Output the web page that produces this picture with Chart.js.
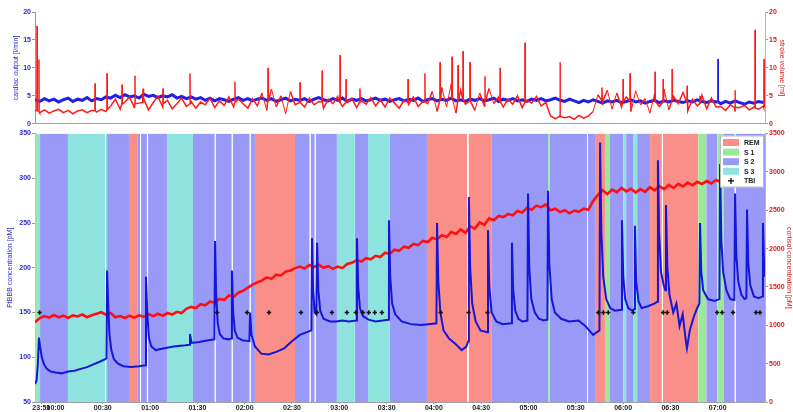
<!DOCTYPE html>
<html>
<head>
<meta charset="utf-8">
<script src="https://cdn.jsdelivr.net/npm/chart.js@4.4.0/dist/chart.umd.min.js"></script>
<style>
  html, body { margin: 0; padding: 0; background: #fff; }
  #wrap { position: relative; width: 793px; height: 412px; overflow: hidden; }
  #chart-top { position: absolute; left: 0; top: 0; }
  #chart-bottom { position: absolute; left: 0; top: 128px; }
</style>
</head>
<body>
<div id="wrap">
  <canvas id="chart-top" width="793" height="129"></canvas>
  <canvas id="chart-bottom" width="793" height="284"></canvas>
</div>
<script>
// Time is in minutes relative to midnight (negative = before 00:00).
const X_MIN = -13;
const X_MAX = 450;
const xTickMinutes = [-9, 0, 30, 60, 90, 120, 150, 180, 210, 240, 270, 300, 330, 360, 390, 420];
const xTickLabels = ['23:51', '00:00', '00:30', '01:00', '01:30', '02:00', '02:30', '03:00', '03:30',
  '04:00', '04:30', '05:00', '05:30', '06:00', '06:30', '07:00'];

const outputTicks = [0, 5, 10, 15, 20];
const concTicks = [50, 100, 150, 200, 250, 300, 350];
const rightConcTicks = [0, 500, 1000, 1500, 2000, 2500, 3000, 3500];

// regularly sampled traces: one value every SAMPLE_STEP minutes from SAMPLE_START
const SAMPLE_START = -13;
const SAMPLE_STEP = 3;

const cardiacOutput = [
  4.3, 4.0, 4.5, 4.1, 4.4, 3.9, 4.3, 4.6, 4.0, 4.4, 4.2, 4.7, 4.1, 4.5, 4.3, 4.8,
  4.6, 5.1, 4.7, 5.2, 4.8, 5.0, 4.6, 5.3, 4.9, 5.1, 4.7, 5.0, 4.8, 5.2, 4.6, 4.9, 4.5, 4.8, 4.4, 4.7,
  4.2, 4.6, 4.1, 4.5, 4.3, 4.0, 4.4, 4.7, 4.2, 4.5,
  4.1, 4.4, 4.6, 4.2, 4.5, 4.0, 4.3, 4.6, 4.1, 4.4,
  4.2, 4.5, 4.0, 4.4, 4.7, 4.3, 4.1, 4.5, 4.2, 4.6,
  4.0, 4.4, 4.2, 4.5, 4.1, 4.3, 4.6, 4.2, 4.4, 4.0,
  4.3, 4.5, 4.1, 4.4, 4.2, 4.6, 4.0, 4.3, 4.5, 4.1,
  4.4, 4.2, 4.6, 4.1, 4.3, 4.0, 4.4, 4.2, 4.5, 4.1,
  4.3, 4.6, 4.0, 4.4, 4.2, 4.5, 4.1, 4.3, 4.0, 4.4,
  4.2, 4.5, 4.1, 4.3, 4.6, 4.2, 4.0, 4.4,
  4.1, 3.8, 4.2, 3.9, 4.3, 4.0, 3.7, 4.1, 3.9, 4.2, 3.8, 4.0, 4.3, 3.9, 4.1,
  3.7, 4.0, 4.2, 3.8, 4.1, 3.9, 4.2, 4.0, 3.8, 4.1, 3.9, 4.3, 4.0, 3.8, 4.1,
  3.9, 3.6, 4.0, 3.7, 4.1, 3.8, 3.5, 3.9, 3.7, 4.0, 3.8
];

const strokeTrace = [
  2.4, 2.0, 2.5, 1.9, 2.3, 2.6, 2.0, 2.4, 1.8, 2.3, 2.5, 2.0, 2.4, 2.1, 2.6, 2.2,
  3.2, 4.4, 2.6, 3.9, 4.8, 2.9, 3.7, 4.5, 2.5, 3.8, 4.9, 3.0, 4.2, 2.7, 3.6, 4.6, 3.1, 4.0, 2.8, 3.9,
  3.4, 4.6, 2.9, 4.1, 3.3, 4.8, 3.0, 4.4, 3.6, 2.8, 4.5, 3.2,
  5.5, 2.4, 6.2, 3.0, 5.0, 1.8, 5.8, 3.4,
  4.2, 3.0, 4.6, 3.4, 4.0, 2.8, 4.4, 3.6, 4.9, 3.1, 3.8, 4.5, 2.9, 4.1,
  3.5, 4.7, 3.2, 4.3, 3.0, 4.6, 3.7, 2.8, 4.2, 3.5, 4.8, 3.1, 4.0, 3.6,
  5.8, 2.2, 6.5, 3.0, 7.2, 1.9, 6.0, 3.5, 7.5, 2.4, 5.5, 3.2, 6.3,
  3.6, 4.8, 3.0, 4.4, 3.5, 5.0, 2.9, 4.2, 3.7, 4.9, 3.2, 3.8,
  1.4, 0.9, 1.6, 1.1, 1.3, 0.8, 1.5, 1.0, 1.4, 2.2,
  5.2, 4.0, 6.0, 2.6, 5.5, 3.0, 4.8, 2.2, 5.9, 3.4, 4.5, 1.9, 5.4,
  3.1, 6.2, 2.5, 4.9, 3.6, 5.6, 2.3, 4.4, 3.2, 5.1, 2.7, 4.6, 3.0,
  3.1, 2.4, 3.4, 2.2, 2.9, 3.3, 2.5, 3.0, 2.6, 3.2
];

// short artefact peaks: [minute, peak, level at the foot]
const strokeSpikes = [
  [-11.7, 17.5, 2.3], [-10.5, 11.5, 2.2], [25.1, 7.2, 2.3], [32.7, 9, 2.5], [42.2, 7, 3.5],
  [50.4, 8.6, 3.6], [55.5, 6.3, 3.8], [68.2, 6.3, 3.6], [85.3, 9, 3.5], [113.8, 7.5, 3.8],
  [134.8, 10, 4.0], [155.1, 7.4, 3.8], [169.1, 9.5, 3.9], [180.5, 12.3, 3.7], [184.3, 8, 3.8],
  [193.1, 6.3, 3.9], [223.6, 8, 3.8], [234.3, 9, 3.9], [243.9, 11, 4.2], [251.5, 12, 4.5],
  [255.3, 10.5, 4.0], [258.5, 13, 4.4], [262.9, 11, 4.1], [272.4, 8.5, 4.0], [282, 10, 3.9],
  [297.8, 14.5, 3.8], [320, 11, 1.3], [346.6, 6.5, 4.2], [360, 8, 4.0], [364.4, 9, 4.1],
  [380.3, 9.3, 4.0], [385.4, 8, 3.9], [391.1, 9.8, 4.1], [400.6, 6.8, 3.8], [408.8, 5, 3.6],
  [431, 6, 2.9], [443.7, 16.8, 2.8], [449.4, 11.6, 3.0]
];
const cardiacSpikes = [[420.2, 11.6, 3.9]];

const cortisolTrace = [
  1040, 1095, 1120, 1100, 1135, 1105, 1125, 1095, 1130, 1115, 1140, 1105, 1130, 1150, 1170, 1140,
  1160, 1105, 1120, 1095, 1125, 1100, 1130, 1110, 1145, 1120, 1150, 1125, 1160, 1140, 1175, 1160,
  1215, 1240, 1225, 1275, 1260, 1310, 1295, 1345, 1330, 1390, 1370, 1425, 1450, 1490, 1530, 1560,
  1585, 1625, 1605, 1660, 1650, 1700, 1715, 1745, 1765, 1740, 1785, 1760, 1790, 1750, 1770, 1735,
  1765, 1745, 1800, 1815, 1850, 1830, 1875, 1860, 1905, 1890, 1945, 1930, 1985, 1970, 2025, 2010,
  2060, 2045, 2100, 2085, 2140, 2120, 2175, 2150, 2215, 2190, 2250, 2205, 2290, 2260, 2340, 2310,
  2395, 2370, 2425, 2410, 2450, 2435, 2490, 2470, 2530, 2505, 2560, 2540, 2575, 2500, 2520, 2475,
  2500, 2460, 2495, 2480, 2520, 2505, 2620, 2700, 2760, 2710, 2770, 2735, 2790, 2745, 2780, 2730,
  2775, 2740, 2800, 2760, 2815, 2775, 2830, 2790, 2845, 2810, 2860, 2825, 2870, 2840, 2880, 2850,
  2895, 2865, 2900, 2870, 2905, 2880, 2910, 2885, 2915, 2890, 2905
];

// [minute, concentration]
const ptbbbSeries = [
  [-13, 70], [-12, 74], [-11.2, 92], [-10.5, 122], [-9.8, 112], [-8.8, 101], [-7.5, 93], [-5.5, 87],
  [-3, 84], [0, 83], [4, 82], [8, 84], [12, 85], [16, 87], [20, 89], [24, 92], [28, 95], [31.5, 98], [32.3, 99],
  [32.7, 197], [33.4, 160], [34.2, 126], [35.4, 108], [37, 98], [39.5, 93], [43, 90], [48, 89], [53, 90], [57, 91],
  [57.4, 190], [58.2, 150], [59.2, 122], [60.8, 112], [63.5, 108], [69, 110], [75, 112], [81, 113], [84.8, 114],
  [85.3, 126], [86.3, 116], [91, 117], [97, 119], [100.8, 120],
  [101.2, 230], [101.9, 170], [102.9, 138], [104.2, 126], [106.5, 121], [109.5, 120], [111.5, 121],
  [111.9, 197], [112.7, 150], [113.7, 130], [115.4, 122], [118.5, 119], [123, 118],
  [123.4, 150], [124.3, 125], [126.5, 112], [130.5, 104], [135, 103], [140, 106], [145, 110], [150, 118],
  [155, 125], [159.5, 128], [162.3, 130],
  [162.7, 233], [163.4, 175], [164.4, 150], [165.4, 148], [165.9, 228], [166.7, 175], [167.9, 152], [170, 143],
  [174, 140], [178, 140], [182, 141], [186, 140], [190.8, 141],
  [191.2, 233], [192, 178], [193.1, 155], [195, 146], [198.5, 142], [203, 140], [207.5, 141], [211.1, 142],
  [211.5, 253], [212.3, 190], [213.5, 160], [215.5, 148], [219.5, 140], [225.5, 137], [231.5, 136], [236.5, 137], [241.6, 138],
  [242, 250], [242.8, 185], [244.1, 150], [246.1, 130], [249.6, 121], [253.6, 115], [257.6, 108], [260.6, 112], [261.8, 118],
  [262.2, 279], [263, 200], [264.3, 160], [266.5, 140], [269.5, 130], [273.9, 128],
  [274.3, 242], [275.1, 180], [276.6, 150], [279.6, 140], [283.6, 137], [289.1, 138],
  [289.5, 228], [290.3, 175], [291.6, 152], [293.6, 143], [296, 140], [299.3, 141],
  [299.7, 283], [300.5, 200], [301.8, 165], [304, 150], [306.6, 143], [309.6, 141], [312, 142],
  [312.4, 286], [313.2, 205], [314.7, 165], [316.7, 150], [320.7, 143], [325.7, 140], [331.7, 141], [336, 135], [341, 125], [345, 130],
  [345.4, 340], [346.2, 240], [347.4, 190], [349.3, 165], [351.8, 155], [354.8, 152], [358.9, 153],
  [359.3, 253], [360.1, 190], [361.3, 165], [363.3, 155], [365.8, 152], [367.1, 154],
  [367.5, 247], [368.3, 185], [369.8, 162], [371.8, 155], [375.8, 157], [379.8, 160], [381.7, 162],
  [382.1, 320], [382.8, 240], [384.1, 195], [385.8, 180], [386.8, 175],
  [387.2, 270], [388.1, 200], [389.4, 170], [391.8, 150], [393.8, 160], [395.8, 135], [397.8, 148], [399.8, 118],
  [400.5, 110], [402.3, 130], [404.8, 145], [407, 155], [408.4, 160],
  [408.8, 250], [409.6, 195], [410.8, 175], [413.8, 165], [417.8, 163], [421.1, 165],
  [421.5, 316], [422.3, 230], [423.5, 195], [425.5, 175], [428, 165], [430.6, 164],
  [431, 283], [431.8, 215], [433, 185], [435, 170], [437, 165], [438.2, 166],
  [438.6, 265], [439.4, 205], [440.7, 180], [443, 168], [446, 166], [448.3, 168],
  [448.7, 250], [449.3, 210], [450, 190]
];

const tbiMinutes = [-10.1, 102.5, 121.5, 135.4, 155.7, 165.8, 175.3, 184.8, 190.5, 194.9, 198.7, 202.5, 207,
  244.3, 262, 274, 344.3, 347.5, 350.6, 366.5, 385.4, 388, 419.6, 422.8, 429.7, 444.3, 446.8];
const TBI_LEVEL = 150;

// hypnogram, [start, end] in minutes per stage
const remSpans = [[46.6, 52.3], [126.5, 151.9], [235.6, 261], [262, 276.8], [342.2, 348.5], [377.1, 384.6], [385.2, 407.6]];
const s1Spans = [[-13, -11.7], [312.4, 313.6], [348.5, 351.7], [407.6, 412.7], [419.7, 423.5]];
const s2Spans = [[-9.8, 7.9], [32.7, 46.6], [52.3, 53.6], [54.2, 58], [58.7, 70.7], [87.2, 101], [101.6, 111.8],
  [112.4, 123.2], [123.8, 126.5], [151.9, 161.2], [161.8, 164.4], [165, 178.5], [189.9, 198.2], [212.1, 235.6],
  [276.8, 312.4], [313.6, 337.1], [337.7, 342.2], [351.7, 360], [361.9, 366.3], [368.9, 377.1], [412.7, 419.7],
  [423.5, 430.8], [431.4, 450]];
const s3Spans = [[-11.7, -9.8], [7.9, 31.4], [32, 32.7], [70.7, 87.2], [178.5, 189.9], [198.2, 212.1], [360, 361.9], [366.3, 368.9]];

const legendLabels = ['REM', 'S 1', 'S 2', 'S 3', 'TBI'];
const stageColors = ['#f98f88', '#9be89b', '#9999f7', '#8fe3df'];
const BAND_TOP = 350;

Chart.defaults.font.family = 'Arial, "Liberation Sans", sans-serif';

function gridSeries(values) {
  return values.map((v, i) => ({ x: SAMPLE_START + i * SAMPLE_STEP, y: v }));
}

function withSpikes(points, spikes) {
  const extra = [];
  spikes.forEach(([t, peak, foot]) => {
    extra.push({ x: t - 0.2, y: foot }, { x: t, y: peak }, { x: t + 0.2, y: foot });
  });
  return points.concat(extra).sort((a, b) => a.x - b.x);
}

// steep spike flanks are drawn thin so a peak reads as a hairline
function spikeWidth(base) {
  return (ctx) => (Math.abs(ctx.p1.parsed.y - ctx.p0.parsed.y) > 2.5 ? 1 : base);
}

function spanPoints(spans) {
  const pts = [];
  spans.forEach(([a, b]) => {
    pts.push({ x: a, y: BAND_TOP }, { x: b, y: BAND_TOP }, { x: b, y: null });
  });
  return pts;
}

function fixedWidth(w) {
  return (scale) => { scale.width = w; };
}

function setTicks(list) {
  return (scale) => { scale.ticks = list.map((v) => ({ value: v })); };
}

function yAxis(position, ticks, min, max, color, title, titlePad, width) {
  return {
    type: 'linear',
    position,
    min,
    max,
    afterBuildTicks: setTicks(ticks),
    afterFit: fixedWidth(width),
    border: { color: position === 'left' ? '#9a9a9a' : '#f0a0a0' },
    grid: { drawOnChartArea: false, tickLength: 3, color: '#9a9a9a' },
    ticks: {
      color,
      padding: 1,
      font: { size: 7, weight: 'bold' },
      callback: (value) => String(value),
    },
    title: { display: true, text: title, color, padding: { top: titlePad, bottom: 0 }, font: { size: 7 } },
  };
}

const xBase = {
  type: 'linear',
  min: X_MIN,
  max: X_MAX,
};

// ---- upper panel: cardiac output and stroke trace ----
new Chart(document.getElementById('chart-top'), {
  type: 'line',
  data: {
    datasets: [
      {
        label: 'stroke',
        data: withSpikes(gridSeries(strokeTrace), strokeSpikes),
        yAxisID: 'yR',
        borderColor: '#ff1a1a',
        borderWidth: 1.5,
        segment: { borderWidth: spikeWidth(1.5) },
        pointRadius: 0,
        order: 1,
      },
      {
        label: 'cardiac output',
        data: withSpikes(gridSeries(cardiacOutput), cardiacSpikes),
        yAxisID: 'yL',
        borderColor: '#1f1fe6',
        borderWidth: 3,
        segment: { borderWidth: spikeWidth(3) },
        pointRadius: 0,
        order: 2,
      },
    ],
  },
  options: {
    responsive: false,
    animation: false,
    events: [],
    layout: { padding: { top: 12, bottom: 3, left: 0, right: 0 } },
    plugins: { legend: { display: false }, tooltip: { enabled: false } },
    scales: {
      x: {
        ...xBase,
        afterFit: (scale) => { scale.height = 0; },
        ticks: { display: false },
        grid: { display: false },
        border: { color: '#a0a0a0' },
      },
      yL: yAxis('left', outputTicks, 0, 20, '#2a2ad0', 'cardiac output [l/min]', 12, 35),
      yR: yAxis('right', outputTicks, 0, 20, '#e01818', 'stroke volume [ml]', 7, 28),
    },
  },
});

// legend box drawn inside the plot area, top right
const insideLegend = {
  id: 'insideLegend',
  afterDraw(chart) {
    const { ctx, chartArea } = chart;
    const w = 44, h = 52;
    const x = chartArea.right - w - 1;
    const y = chartArea.top + 2;
    ctx.save();
    ctx.fillStyle = '#ffffff';
    ctx.fillRect(x, y, w, h);
    ctx.strokeStyle = '#8a8a8a';
    ctx.lineWidth = 0.6;
    ctx.strokeRect(x + 0.5, y + 0.5, w - 1, h - 1);
    ctx.font = 'bold 7px Arial, "Liberation Sans", sans-serif';
    ctx.textBaseline = 'middle';
    ctx.textAlign = 'left';
    legendLabels.forEach((label, i) => {
      const cy = y + 7 + i * 9.6;
      if (i < stageColors.length) {
        ctx.fillStyle = stageColors[i];
        ctx.fillRect(x + 3, cy - 3.5, 16, 7);
      } else {
        ctx.strokeStyle = '#000';
        ctx.lineWidth = 1.2;
        ctx.beginPath();
        ctx.moveTo(x + 8, cy); ctx.lineTo(x + 14, cy);
        ctx.moveTo(x + 11, cy - 3); ctx.lineTo(x + 11, cy + 3);
        ctx.stroke();
      }
      ctx.fillStyle = '#222';
      ctx.fillText(label, x + 24, cy + 0.5);
    });
    ctx.restore();
  },
};

function bandDataset(label, spans, color) {
  return {
    label,
    data: spanPoints(spans),
    yAxisID: 'yL',
    backgroundColor: color,
    borderColor: 'transparent',
    borderWidth: 0,
    pointRadius: 0,
    fill: 'start',
    spanGaps: false,
    order: 5,
  };
}

// ---- lower panel: hypnogram with concentrations ----
new Chart(document.getElementById('chart-bottom'), {
  type: 'line',
  data: {
    datasets: [
      {
        label: 'TBI',
        type: 'scatter',
        data: tbiMinutes.map((t) => ({ x: t, y: TBI_LEVEL })),
        yAxisID: 'yL',
        pointStyle: 'cross',
        pointRadius: 2.2,
        borderColor: '#111',
        borderWidth: 1.5,
        order: 0,
      },
      {
        label: 'PtBBB',
        data: ptbbbSeries.map(([t, v]) => ({ x: t, y: v })),
        yAxisID: 'yL',
        borderColor: '#1616d8',
        borderWidth: 2,
        pointRadius: 0,
        order: 1,
      },
      {
        label: 'cortisol',
        data: gridSeries(cortisolTrace),
        yAxisID: 'yR',
        borderColor: '#ff1010',
        borderWidth: 2.6,
        pointRadius: 0,
        order: 2,
      },
      bandDataset('REM', remSpans, stageColors[0]),
      bandDataset('S 1', s1Spans, stageColors[1]),
      bandDataset('S 2', s2Spans, stageColors[2]),
      bandDataset('S 3', s3Spans, stageColors[3]),
    ],
  },
  options: {
    responsive: false,
    animation: false,
    events: [],
    layout: { padding: { top: 5, bottom: 0, left: 0, right: 0 } },
    plugins: { legend: { display: false }, tooltip: { enabled: false } },
    scales: {
      x: {
        ...xBase,
        afterBuildTicks: setTicks(xTickMinutes),
        afterFit: (scale) => { scale.height = 10; },
        border: { color: '#a0a0a0' },
        grid: { drawOnChartArea: false, tickLength: 2, color: '#a0a0a0' },
        ticks: {
          color: '#222',
          padding: 0,
          autoSkip: false,
          maxRotation: 0,
          font: { size: 7, weight: 'bold' },
          callback: (value, index) => xTickLabels[index],
        },
      },
      yL: yAxis('left', concTicks, 50, 350, '#2a2ad0', 'PtBBB concentration [pM]', 6, 35),
      yR: yAxis('right', rightConcTicks, 0, 3500, '#e01818', 'cortisol concentration [pM]', 0, 28),
    },
  },
  plugins: [insideLegend],
});
</script>
</body>
</html>
